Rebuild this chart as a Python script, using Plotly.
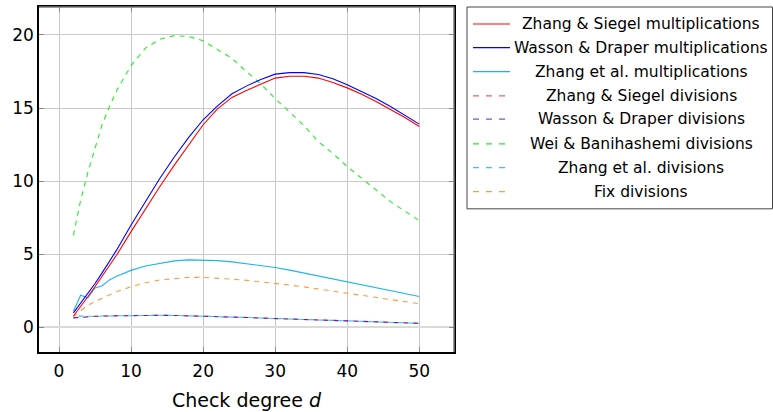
import plotly.graph_objects as go

# ---- data ----
d_vals = [2, 3, 4, 5, 6, 7, 8, 10, 12, 14, 16, 18, 20, 22, 24, 26, 28, 30, 32, 34, 36, 38, 40, 42, 44, 46, 48, 50]

zs_mult = [0.78, 1.42, 2.1, 2.8, 3.5, 4.22, 4.95, 6.55, 8.1, 9.64, 11.1, 12.5, 13.86, 14.95, 15.73, 16.2, 16.62, 17.05, 17.17, 17.18, 17.05, 16.75, 16.38, 15.95, 15.45, 14.9, 14.35, 13.74]
wd_mult = [1.0, 1.65, 2.3, 3.0, 3.75, 4.5, 5.3, 7.0, 8.6, 10.2, 11.65, 13.0, 14.2, 15.15, 15.98, 16.5, 16.95, 17.32, 17.42, 17.42, 17.3, 17.0, 16.6, 16.15, 15.65, 15.1, 14.5, 13.9]
zea_mult = [1.1, 2.2, 2.02, 2.7, 2.85, 3.25, 3.5, 3.9, 4.2, 4.4, 4.55, 4.62, 4.62, 4.57, 4.48, 4.37, 4.24, 4.1, 3.92, 3.72, 3.52, 3.32, 3.12, 2.92, 2.72, 2.52, 2.32, 2.12]
zs_div = [0.65, 0.7, 0.73, 0.76, 0.78, 0.79, 0.8, 0.82, 0.83, 0.83, 0.82, 0.8, 0.78, 0.75, 0.72, 0.68, 0.64, 0.6, 0.57, 0.54, 0.51, 0.48, 0.45, 0.42, 0.39, 0.36, 0.32, 0.28]
wd_div = [0.65, 0.7, 0.73, 0.76, 0.78, 0.79, 0.8, 0.82, 0.83, 0.83, 0.82, 0.8, 0.78, 0.75, 0.72, 0.68, 0.64, 0.6, 0.57, 0.54, 0.51, 0.48, 0.45, 0.42, 0.39, 0.36, 0.32, 0.28]
wb_div = [6.3, 8.7, 10.6, 12.2, 13.9, 15.1, 16.2, 17.9, 19.1, 19.7, 19.95, 19.9, 19.6, 19.0, 18.4, 17.5, 16.65, 15.65, 14.75, 13.8, 12.7, 11.9, 11.0, 10.2, 9.35, 8.6, 7.95, 7.3]
zea_div = [0.78, 0.76, 0.75, 0.76, 0.78, 0.79, 0.8, 0.82, 0.83, 0.83, 0.82, 0.8, 0.78, 0.75, 0.72, 0.68, 0.64, 0.6, 0.57, 0.54, 0.51, 0.48, 0.45, 0.42, 0.39, 0.36, 0.32, 0.28]
fix_div = [0.7, 1.15, 1.5, 1.78, 2.0, 2.25, 2.45, 2.78, 3.05, 3.25, 3.36, 3.42, 3.42, 3.38, 3.3, 3.22, 3.13, 3.03, 2.9, 2.77, 2.63, 2.48, 2.32, 2.18, 2.03, 1.9, 1.76, 1.62]

names = [
    "Zhang & Siegel multiplications",
    "Wasson & Draper multiplications",
    "Zhang et al. multiplications",
    "Zhang & Siegel divisions",
    "Wasson & Draper divisions",
    "Wei & Banihashemi divisions",
    "Zhang et al. divisions",
    "Fix divisions",
]
series = [zs_mult, wd_mult, zea_mult, zs_div, wd_div, wb_div, zea_div, fix_div]
colors = ["#ff0000", "#0000ff", "#1cb4f0", "rgba(255,0,0,0.65)", "rgba(0,0,255,0.65)",
          "#22ee22", "#40c0ee", "#ff9a40"]
DASH = "5px,5px"
dashes = ["solid", "solid", "solid", DASH, DASH, DASH, "0px,5px,5px,0px", DASH]
draw_order = [5, 7, 2, 0, 1, 3, 4, 6]

FONT = "DejaVu Sans"

fig = go.Figure()
for i in draw_order:
    fig.add_trace(go.Scatter(x=d_vals, y=series[i], mode="lines", name=names[i],
                             line=dict(color=colors[i], width=1.1, dash=dashes[i]),
                             showlegend=False, hoverinfo="skip"))

W, H = 773, 412
L, R, T, B = 39, 454, 7, 352.3
pw, ph = R - L, B - T

def px(x):
    return (x - L) / pw

def py(y):
    return (B - y) / ph

shapes = []
# gray frame on top/right
shapes.append(dict(type="line", xref="paper", yref="paper", x0=0, x1=1, y0=1, y1=1,
                   line=dict(color="#7a7a7a", width=1.5), layer="above"))
shapes.append(dict(type="line", xref="paper", yref="paper", x0=1, x1=1, y0=0, y1=1,
                   line=dict(color="#7a7a7a", width=1.5), layer="above"))
# legend box
shapes.append(dict(type="rect", xref="paper", yref="paper", x0=px(467), x1=px(772.5),
                   y0=py(209), y1=py(7), line=dict(color="#444444", width=1),
                   fillcolor="white", layer="above"))
annotations = []
row_y = [24, 47.7, 71.7, 96, 119.3, 144, 167.7, 191.7]
for k in range(8):
    yy = py(row_y[k])
    shapes.append(dict(type="line", xref="paper", yref="paper", x0=px(473), x1=px(510),
                       y0=yy, y1=yy, line=dict(color=colors[k], width=1.2,
                       dash=("6px,7px" if dashes[k] != "solid" else "solid")), layer="above"))
    annotations.append(dict(xref="paper", yref="paper", x=px(641), y=yy, text=names[k],
                            showarrow=False, xanchor="center", yanchor="middle",
                            font=dict(family=FONT, size=15.5, color="black")))

fig.update_layout(
    width=W, height=H,
    margin=dict(l=L, r=W - R, t=T, b=H - B, autoexpand=False),
    paper_bgcolor="white", plot_bgcolor="white",
    showlegend=False,
    font=dict(family=FONT, size=17, color="black"),
    shapes=shapes, annotations=annotations,
    xaxis=dict(range=[-2.78, 54.82], tickvals=[0, 10, 20, 30, 40, 50],
               automargin=False,
               showgrid=True, gridcolor="#c8c8c8", gridwidth=1,
               zeroline=True, zerolinecolor="#c8c8c8", zerolinewidth=1,
               showline=True, linecolor="black", linewidth=1.5, mirror="ticks",
               ticks="inside", ticklen=5, tickcolor="#888888",
               ticklabelstandoff=3,
               tickfont=dict(family=FONT, size=17),
               title=dict(text="Check degree <i>d</i>", font=dict(family=FONT, size=19), standoff=14)),
    yaxis=dict(range=[-1.68, 21.91], tickvals=[0, 5, 10, 15, 20],
               automargin=False,
               showgrid=True, gridcolor="#c8c8c8", gridwidth=1,
               zeroline=True, zerolinecolor="#dadada", zerolinewidth=2,
               showline=True, linecolor="black", linewidth=1.5, mirror="ticks",
               ticks="inside", ticklen=5, tickcolor="#888888",
               tickfont=dict(family=FONT, size=17)),
)

fig.write_html("out.html")
